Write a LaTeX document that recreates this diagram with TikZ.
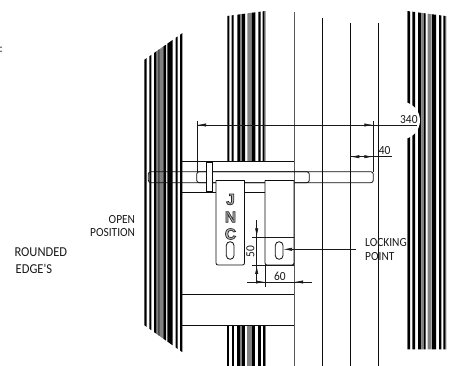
\documentclass[tikz,border=0pt]{standalone}
\usepackage{fontspec}
\usetikzlibrary{arrows.meta}
\newfontfamily\drwfont[FakeStretch=0.92]{Carlito}
\newfontfamily\logofont{Liberation Sans Bold}
\newcommand{\outl}[1]{\special{pdf:code q 2 Tr 0.7 w 0.15 G 0.72 g}#1\special{pdf:code Q}}
\tikzset{
  x=1pt,y=-1pt,
  ln/.style={line width=0.8pt,black!95},
  fine/.style={line width=0.65pt,black!90},
  lbl/.style={inner sep=0pt,font=\drwfont\fontsize{12.4}{13}\selectfont,text=black!90},
  lblb/.style={inner sep=0pt,font=\drwfont\fontsize{13.6}{14}\selectfont,text=black!90},
  tip/.style={-{Latex[length=9pt,width=3.2pt]}},
  logo/.style={inner sep=0pt,font=\logofont\fontsize{15.5}{16}\selectfont}
}
\newcommand{\leftbars}{144.3/146.7/black,149.3/151.3/black,154/156.7/black,156.7/158.3/gray,158.3/159.5/black,160/163.3/gray,163.3/166/black,167.3/172.7/black,175.7/177.7/black,180/182.3/black}
\newcommand{\midbars}{227.3/229.3/black,231.7/233.7/black,237.3/240/black,240/242/gray,242/245/black,247.3/251.7/gray,251.7/255.3/black,258.3/260.7/black,262.7/264.7/black,264.7/265.5/gray}
\newcommand{\rightbars}{407/407.8/gray,407.8/410/black,412.3/415/black,418/421.3/black,421.3/424/gray,424/425.5/black,427.7/431.7/gray,432/436/black,439/441.3/black,443.3/445.6/black,445.6/446.3/gray}
\begin{document}
\begin{tikzpicture}
\useasboundingbox (0,0) rectangle (461,366);
% hatched profile stripes
\foreach \a/\b/\c in \leftbars {
  \pgfmathsetmacro\ta{60-(\a-144)*0.70}
  \pgfmathsetmacro\tb{60-(\b-144)*0.70}
  \pgfmathsetmacro\ba{325+(\a-144)*0.71}
  \pgfmathsetmacro\bb{325+(\b-144)*0.71}
  \fill[\c] (\a,\ta) -- (\b,\tb) -- (\b,\bb) -- (\a,\ba) -- cycle;
}
\foreach \a/\b/\c in \midbars {
  \pgfmathsetmacro\ta{16-(\a-227)*0.13}
  \pgfmathsetmacro\tb{16-(\b-227)*0.13}
  \fill[\c] (\a,\ta) -- (\b,\tb) -- (\b,161.7) -- (\a,161.7) -- cycle;
  \fill[\c] (\a,325.7) rectangle (\b,366);
}
\foreach \a/\b/\c in \rightbars {
  \pgfmathsetmacro\ta{11+(\a-407)*0.13}
  \pgfmathsetmacro\tb{11+(\b-407)*0.13}
  \fill[\c] (\a,\ta) -- (\b,\tb) -- (\b,349.3) -- (\a,349.3) -- cycle;
}
\fill[white] (401.25,120.5) circle[radius=18.75];
% verticals
\draw[ln,black!65] (294,12) -- (294,366);
\draw[ln] (322.3,18) -- (322.3,366);
\draw[ln] (350.3,23) -- (350.3,366);
\draw[ln] (378.7,23) -- (378.7,366);
% frame
\draw[ln] (181.7,161.7) -- (294,161.7);
\draw[ln] (181.7,192.7) -- (294,192.7);
\draw[ln] (181.7,294.3) -- (294,294.3);
\draw[ln] (181.7,325.7) -- (294,325.7);
% bolt bar and slot
\draw[ln,rounded corners=2.5pt] (148.3,171.7) rectangle (373.3,182.7);
\draw[ln,rounded corners=2.5pt] (196.7,171.7) rectangle (309.3,182.7);
% handle
\draw[ln,fill=white] (206.3,162.7) rectangle (212.3,191.7);
% plates
\draw[ln,fill=white,rounded corners=2pt] (216,180.3) -- (216,265) -- (244.5,265) -- (244.5,180.3);
\draw[ln] (216,180.3) -- (244.5,180.3);
\draw[ln,fill=white,rounded corners=2pt] (265,180.3) -- (265,265) -- (294,265) -- (294,180.3);
\draw[ln] (265,180.3) -- (294,180.3);
\draw[ln,rounded corners=3.8pt] (226.3,241.7) rectangle (234,259.3);
\draw[ln,rounded corners=3.8pt] (275.3,241.7) rectangle (283,259.3);
\node[logo] (j) at (230.5,199.5) {\outl{J}};
\node[logo] (n) at (230.5,217) {\outl{N}};
\node[logo] (c) at (230.5,234) {\outl{C}};
% dimension 340
\draw[fine] (197,120.7) -- (197,171.7);
\draw[fine] (373.3,121) -- (373.3,171.7);
\coordinate (d340a) at (197,125);
\coordinate (d340b) at (373.3,125);
\coordinate (d340e) at (417,125);
\draw[fine] (d340a) -- (d340e);
\draw[fine,tip] (206,125) -- (d340a);
\draw[fine,tip] (364.3,125) -- (d340b);
\node[lbl,anchor=base west] (t340) at (400,123.3) {340};
% dimension 40
\coordinate (d40a) at (350.3,156.7);
\coordinate (d40b) at (373.3,156.7);
\coordinate (d40e) at (392.3,156.7);
\draw[fine] (d40a) -- (d40e);
\draw[fine,tip] (359.3,156.7) -- (d40a);
\draw[fine,tip] (364.3,156.7) -- (d40b);
\node[lbl,anchor=base west] (t40) at (378.7,155) {40};
% dimension 50
\draw[fine] (252,237.3) -- (294,237.3);
\draw[fine] (252,265) -- (294,265);
\coordinate (d50a) at (256.7,237.3);
\coordinate (d50b) at (256.7,265);
\draw[fine] (256.7,220) -- (256.7,283.3);
\draw[fine,tip] (256.7,228.3) -- (d50a);
\draw[fine,tip] (256.7,274) -- (d50b);
\node[lbl,rotate=90,anchor=center] (t50) at (250.5,251.5) {50};
% dimension 60
\draw[fine] (265,265) -- (265,287);
\coordinate (d60a) at (265,282);
\coordinate (d60b) at (294,282);
\draw[fine] (247.3,282) -- (311.7,282);
\draw[fine,tip] (256,282) -- (d60a);
\draw[fine,tip] (303,282) -- (d60b);
\node[lbl,anchor=base west] (t60) at (274,280.7) {60};
% locking point leader
\coordinate (lk) at (356,249.3);
\coordinate (sl) at (283,249.3);
\draw[fine,tip] (lk) -- (sl);
% labels
\node[lbl,anchor=base east] (open) at (135.3,223.3) {OPEN};
\node[lbl,anchor=base east] (pos) at (135.3,236.7) {POSITION};
\node[lblb,anchor=base east] (rnd) at (67.3,256.7) {ROUNDED};
\node[lblb,anchor=base west] (edg) at (15.5,274) {EDGE'S};
\node[lbl,anchor=base west] (lock) at (365,246.7) {LOCKING};
\node[lbl,anchor=base west] (pt) at (365,260.7) {POINT};
\node[lbl,anchor=base west] (col) at (-0.5,52.5) {:};
\end{tikzpicture}
\end{document}
